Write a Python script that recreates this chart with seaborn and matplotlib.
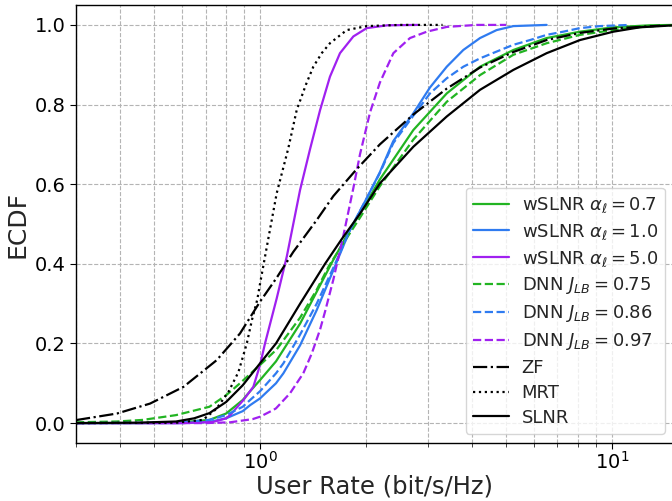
import numpy as np
import pandas as pd
import seaborn as sns
import matplotlib
matplotlib.use("Agg")
import matplotlib.pyplot as plt
from matplotlib.ticker import NullFormatter, LogLocator

# ---------------- data ----------------
labels = [r"wSLNR $\alpha_\ell = 0.7$", r"wSLNR $\alpha_\ell = 1.0$", r"wSLNR $\alpha_\ell = 5.0$",
          r"DNN $J_{LB} = 0.75$", r"DNN $J_{LB} = 0.86$", r"DNN $J_{LB} = 0.97$",
          "ZF", "MRT", "SLNR"]

gs_x = [0.3, 0.45, 0.577, 0.718, 0.801, 0.893, 0.937, 1.0, 1.11, 1.30, 1.449, 1.615, 1.80, 2.01, 2.19,
        2.726, 3.392, 4.217, 5.244, 6.52, 8.11, 10.09, 12.8, 15.0]
gs_y = [0.0, 0.0, 0.001, 0.008, 0.024, 0.058, 0.08, 0.108, 0.155, 0.25, 0.33, 0.41, 0.485, 0.555, 0.612,
        0.736, 0.828, 0.895, 0.937, 0.967, 0.983, 0.994, 0.999, 1.0]

bs_x = [0.3, 0.6, 0.718, 0.801, 0.893, 0.937, 1.0, 1.11, 1.165, 1.299, 1.449, 1.615, 1.801, 2.01, 2.19,
        2.39, 2.726, 3.04, 3.392, 3.78, 4.217, 4.70, 5.244, 6.52]
bs_y = [0.0, 0.0, 0.003, 0.012, 0.03, 0.045, 0.062, 0.10, 0.125, 0.195, 0.284, 0.384, 0.485, 0.565, 0.630,
        0.708, 0.778, 0.843, 0.895, 0.937, 0.967, 0.987, 0.997, 1.0]

ps_x = [0.3, 0.6, 0.737, 0.801, 0.822, 0.897, 0.957, 1.0, 1.033, 1.115, 1.191, 1.299, 1.387, 1.481,
        1.58, 1.687, 1.841, 2.01, 2.3, 2.8]
ps_y = [0.0, 0.0, 0.003, 0.012, 0.02, 0.058, 0.091, 0.146, 0.20, 0.313, 0.418, 0.585, 0.688, 0.786,
        0.870, 0.929, 0.971, 0.992, 0.999, 1.0]

gd_x = [0.3, 0.392, 0.464, 0.577, 0.718, 0.801, 0.877, 1.0, 1.115, 1.30, 1.449, 1.57, 1.72, 1.92, 2.19,
        2.726, 3.392, 4.217, 5.244, 6.52, 8.11, 10.09, 12.5, 15.0]
gd_y = [0.002, 0.004, 0.008, 0.02, 0.041, 0.07, 0.10, 0.146, 0.185, 0.265, 0.335, 0.395, 0.45, 0.515, 0.595,
        0.712, 0.807, 0.874, 0.925, 0.954, 0.975, 0.987, 0.996, 0.999]

bd_x = [0.3, 0.577, 0.718, 0.801, 0.893, 0.937, 1.0, 1.11, 1.165, 1.299, 1.449, 1.615, 1.801, 2.01, 2.19,
        2.39, 2.726, 3.04, 3.392, 3.78, 4.217, 4.70, 5.244, 5.85, 6.52, 7.27, 8.11, 9.24, 11.25]
bd_y = [0.0, 0.001, 0.008, 0.02, 0.041, 0.058, 0.08, 0.125, 0.15, 0.222, 0.30, 0.39, 0.485, 0.565, 0.628,
        0.703, 0.772, 0.828, 0.866, 0.895, 0.916, 0.933, 0.95, 0.962, 0.975, 0.983, 0.992, 0.997, 1.0]

pd_x = [0.3, 0.7, 0.822, 0.953, 1.0, 1.091, 1.11, 1.217, 1.327, 1.403, 1.481, 1.53, 1.615, 1.724, 1.841,
        1.923, 2.053, 2.19, 2.392, 2.667, 2.977, 3.392, 4.127, 5.0]
pd_y = [0.0, 0.0, 0.002, 0.010, 0.016, 0.033, 0.037, 0.075, 0.125, 0.175, 0.235, 0.28, 0.36, 0.47, 0.59,
        0.675, 0.78, 0.855, 0.929, 0.967, 0.983, 0.995, 1.0, 1.0]

zf_x = [0.3, 0.392, 0.487, 0.606, 0.753, 0.877, 1.0, 1.115, 1.243, 1.449, 1.615, 1.874, 2.19, 2.726,
        3.392, 4.217, 5.244, 6.52, 8.11, 10.1, 13.7]
zf_y = [0.0075, 0.024, 0.049, 0.091, 0.158, 0.225, 0.305, 0.365, 0.43, 0.51, 0.57, 0.636, 0.70, 0.775,
        0.84, 0.893, 0.932, 0.962, 0.980, 0.991, 0.998]

mrt_x = [0.3, 0.577, 0.688, 0.75, 0.813, 0.868, 0.917, 0.949, 0.982, 1.0, 1.054, 1.115, 1.14, 1.203,
         1.271, 1.35, 1.417, 1.50, 1.58, 1.763, 2.01, 2.5, 3.3]
mrt_y = [0.0, 0.001, 0.008, 0.035, 0.078, 0.128, 0.20, 0.26, 0.31, 0.35, 0.46, 0.577, 0.61, 0.69,
         0.786, 0.85, 0.895, 0.93, 0.954, 0.987, 0.997, 1.0, 1.0]

bk_x = [0.3, 0.45, 0.577, 0.65, 0.718, 0.801, 0.893, 1.0, 1.11, 1.30, 1.53, 1.70, 1.92, 2.19, 2.726,
        3.392, 4.217, 5.244, 6.52, 8.11, 10.09, 12.0, 15.0]
bk_y = [0.0, 0.001, 0.004, 0.012, 0.025, 0.053, 0.095, 0.15, 0.20, 0.30, 0.40, 0.46, 0.525, 0.602, 0.694,
        0.770, 0.837, 0.887, 0.929, 0.962, 0.983, 0.994, 0.999]

xs = [gs_x, bs_x, ps_x, gd_x, bd_x, pd_x, zf_x, mrt_x, bk_x]
ys = [gs_y, bs_y, ps_y, gd_y, bd_y, pd_y, zf_y, mrt_y, bk_y]

# ---------------- styles ----------------
GREEN, BLUE, PURPLE = "#22b422", "#2f7bf0", "#a020f0"
colors = [GREEN, BLUE, PURPLE, GREEN, BLUE, PURPLE, "black", "black", "black"]
styles = ["-", "-", "-", "--", "--", "--", "-.", ":", "-"]

sns.set_style("ticks")
plt.rcParams["font.family"] = ["DejaVu Sans"]
plt.rcParams["mathtext.fontset"] = "dejavusans"

fig = plt.figure(figsize=(6.72, 5.01), dpi=100)
ax = fig.add_axes([76 / 672, 1 - 443 / 501, (674 - 76) / 672, (443 - 5) / 501])

for x, y, lab, c, ls in zip(xs, ys, labels, colors, styles):
    df = pd.DataFrame({"rate": x, "ecdf": y})
    sns.lineplot(data=df, x="rate", y="ecdf", ax=ax, color=c, linestyle=ls,
                 linewidth=1.6, label=lab, sort=False, estimator=None)

ax.set_xscale("log")
ax.set_xlim(0.3, 15)
ax.set_ylim(-0.05, 1.05)
ax.xaxis.set_minor_locator(LogLocator(base=10, subs=np.arange(2, 10)))
ax.xaxis.set_minor_formatter(NullFormatter())
ax.set_yticks([0.0, 0.2, 0.4, 0.6, 0.8, 1.0])
ax.set_yticklabels(["0.0", "0.2", "0.4", "0.6", "0.8", "1.0"])

ax.grid(which="both", axis="x", linestyle="--", color="#b4b4b4", linewidth=0.8)
ax.grid(which="major", axis="y", linestyle="--", color="#b4b4b4", linewidth=0.8)
ax.set_axisbelow(True)

ax.tick_params(axis="both", which="major", labelsize=14, colors="black", length=4)
ax.tick_params(axis="x", which="major", pad=2)
ax.tick_params(axis="x", which="minor", length=3)
for s in ax.spines.values():
    s.set_color("black")
    s.set_linewidth(1.0)

ax.set_xlabel("User Rate (bit/s/Hz)", fontsize=17.5, labelpad=1)
ax.set_ylabel("ECDF", fontsize=18)

leg = ax.legend(loc="lower right", fontsize=13, frameon=True, handlelength=2.0,
                labelspacing=0.38, handletextpad=0.7)

fig.savefig("out.png", dpi=100)
